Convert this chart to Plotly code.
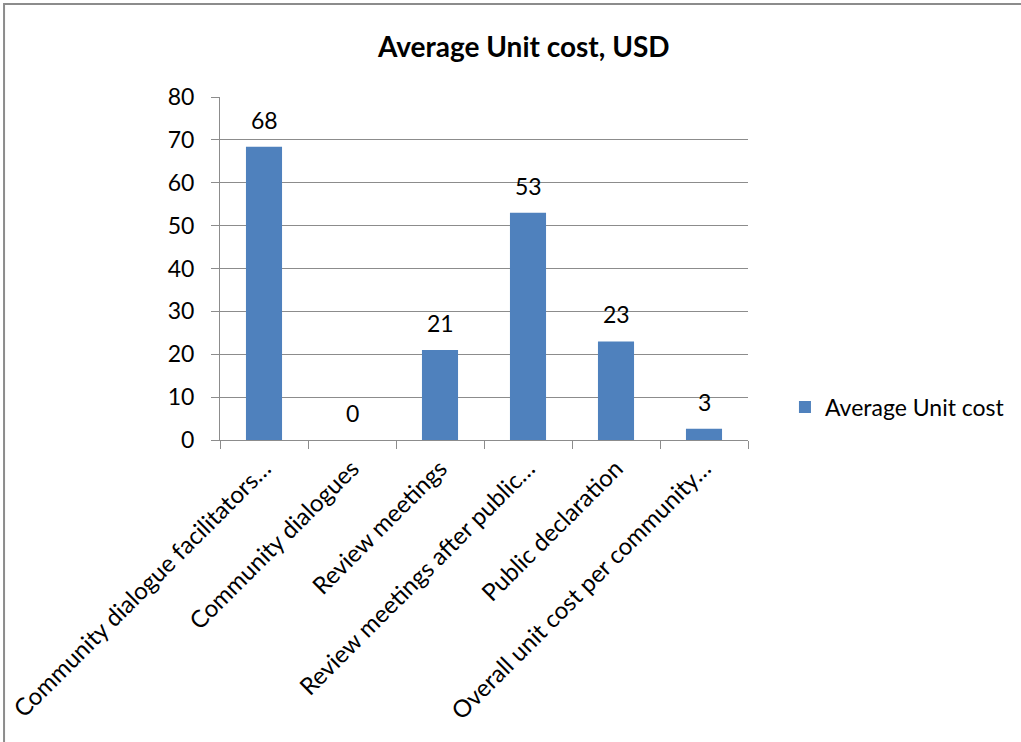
import plotly.graph_objects as go

categories = [
    "Community dialogue facilitators…",
    "Community dialogues",
    "Review meetings",
    "Review meetings after public…",
    "Public declaration",
    "Overall unit cost per community…",
]
values = [68.4, 0, 21, 53, 23, 2.6]
labels = ["68", "0", "21", "53", "23", "3"]
series_name = "Average Unit cost"
title_text = "Average Unit cost, USD"

FONT = "Lato, Calibri, Carlito, sans-serif"
FS = 23

fig = go.Figure()
fig.add_trace(go.Bar(
    x=categories, y=values, name=series_name,
    marker=dict(color="#4F81BD", line=dict(width=0)),
    width=0.41, showlegend=True,
))

for c, v, t in zip(categories, values, labels):
    fig.add_annotation(x=c, y=v, text=t, showarrow=False, xref="x", yref="y",
                       yanchor="middle", yshift=27,
                       font=dict(family=FONT, size=FS, color="black"))

# outer chart border (left and top visible)
fig.add_shape(type="rect", xref="paper", yref="paper",
              x0=-0.409, x1=1.56, y0=-1.2, y1=1.271,
              line=dict(color="#8c8c8c", width=2), layer="below")

fig.update_layout(
    width=1021, height=742,
    margin=dict(l=220, r=273, t=97, b=302, autoexpand=False),
    paper_bgcolor="white", plot_bgcolor="white",
    font=dict(family=FONT, size=FS, color="black"),
    title=dict(text="<b>" + title_text + "</b>", x=0.513, xanchor="center",
               y=0.937, yanchor="middle", font=dict(family=FONT, size=28, color="black")),
    legend=dict(x=1.07, y=0.096, xanchor="left", yanchor="middle",
                font=dict(family=FONT, size=FS, color="black"),
                bgcolor="rgba(0,0,0,0)"),
    bargap=0.59,
)
fig.update_yaxes(range=[0, 80], dtick=10, showgrid=True, gridcolor="#8c8c8c", gridwidth=1,
                 showline=True, linecolor="#8c8c8c", linewidth=1, automargin=False,
                 ticks="outside", ticklen=8, tickcolor="#8c8c8c", ticklabelstandoff=12,
                 zeroline=False, tickfont=dict(family=FONT, size=FS, color="black"))
fig.update_xaxes(showline=True, linecolor="#8c8c8c", linewidth=1, automargin=False,
                 ticks="outside", ticklen=8, tickcolor="#8c8c8c", tickson="boundaries",
                 tickangle=-45, ticklabelstandoff=4,
                 tickfont=dict(family=FONT, size=24, color="black"))

fig.write_html("out.html")
